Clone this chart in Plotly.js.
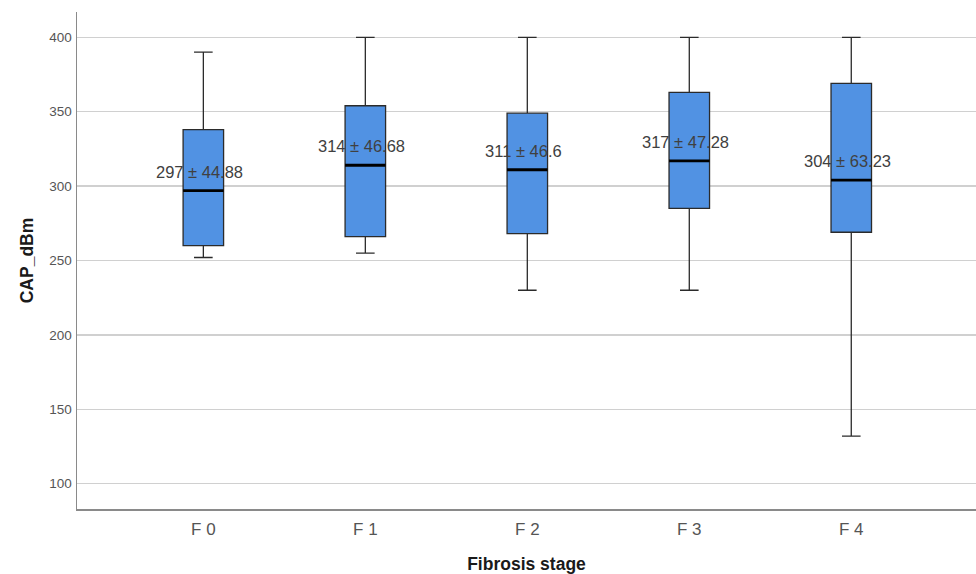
<!DOCTYPE html>
<html>
<head>
<meta charset="utf-8">
<script src="https://cdn.plot.ly/plotly-3.0.1.min.js"></script>
<style>html,body{margin:0;padding:0;background:#fff;}#chart{width:976px;height:574px;}</style>
</head>
<body>
<div id="chart"></div>
<script>
const categories = ["F 0", "F 1", "F 2", "F 3", "F 4"];
const upperWhisker = [390, 400, 400, 400, 400];
const q3 = [338, 354, 349, 363, 369];
const median = [297, 314, 311, 317, 304];
const q1 = [260, 266, 268, 285, 269];
const lowerWhisker = [252, 255, 230, 230, 132];
const labels = ["297 ± 44.88", "314 ± 46.68", "311 ± 46.6", "317 ± 47.28", "304 ± 63.23"];

const pos = categories.map((c, i) => i);
const boxWidth = 0.25;

const boxTrace = {
  type: "box",
  x: pos,
  q1: q1,
  median: median,
  q3: q3,
  lowerfence: lowerWhisker,
  upperfence: upperWhisker,
  width: boxWidth,
  whiskerwidth: 0.46,
  fillcolor: "#5192e3",
  line: {color: "#2b2b2b", width: 1.3},
  boxpoints: false,
  showlegend: false,
  hoverinfo: "skip"
};

const mx = [], my = [];
pos.forEach((p, i) => {
  mx.push(p - boxWidth / 2, p + boxWidth / 2, null);
  my.push(median[i], median[i], null);
});
const medianTrace = {
  type: "scatter", mode: "lines", x: mx, y: my,
  line: {color: "#000", width: 2.8}, showlegend: false, hoverinfo: "skip"
};

const annotations = pos.map((p, i) => ({
  x: p, y: median[i], xref: "x", yref: "y", text: labels[i],
  showarrow: false, yshift: 19, xshift: -4,
  font: {family: "Liberation Sans, Arial, sans-serif", size: 16.5, color: "#404040"}
}));

const layout = {
  width: 976, height: 574,
  margin: {l: 77, r: 0, t: 12, b: 65},
  paper_bgcolor: "#fff", plot_bgcolor: "#fff",
  font: {family: "Liberation Sans, Arial, sans-serif"},
  xaxis: {
    range: [-0.78, 4.77],
    tickvals: pos, ticktext: categories,
    showgrid: false, zeroline: false,
    showline: true, linecolor: "#8a8a8a", linewidth: 1.5,
    ticks: "", ticklabelstandoff: 4, tickfont: {size: 17, color: "#555"},
    title: {text: "Fibrosis stage", font: {size: 17.5, color: "#1a1a1a", weight: "bold"}, standoff: 28}
  },
  yaxis: {
    range: [83, 417], dtick: 50, tick0: 100,
    showgrid: true, gridcolor: "#d0d0d0", gridwidth: 1.5,
    zeroline: false,
    showline: true, linecolor: "#8a8a8a", linewidth: 1.5,
    ticks: "", ticklabelstandoff: 1, tickfont: {size: 13.5, color: "#555"},
    title: {text: "CAP_dBm", font: {size: 17.5, color: "#1a1a1a", weight: "bold"}, standoff: 11}
  },
  annotations: annotations
};

Plotly.newPlot("chart", [boxTrace, medianTrace], layout, {displayModeBar: false, staticPlot: true});
</script>
</body>
</html>
